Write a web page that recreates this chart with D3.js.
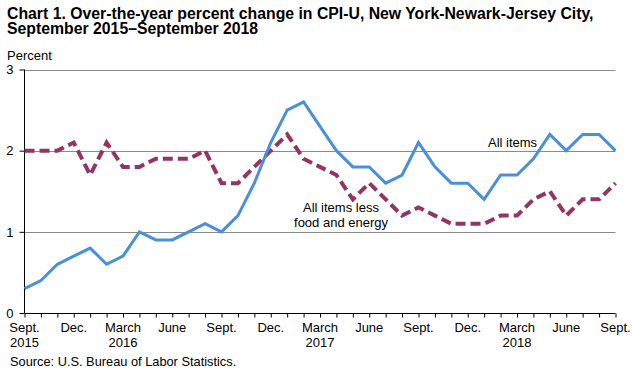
<!DOCTYPE html>
<html><head><meta charset="utf-8">
<script src="https://cdn.jsdelivr.net/npm/d3@7"></script>
<style>body{margin:0;background:#fff}svg{display:block;font-family:"Liberation Sans",Arial,sans-serif}</style>
</head><body>
<script>
const months = ["2015-09","2015-10","2015-11","2015-12","2016-01","2016-02","2016-03","2016-04","2016-05","2016-06","2016-07","2016-08","2016-09","2016-10","2016-11","2016-12","2017-01","2017-02","2017-03","2017-04","2017-05","2017-06","2017-07","2017-08","2017-09","2017-10","2017-11","2017-12","2018-01","2018-02","2018-03","2018-04","2018-05","2018-06","2018-07","2018-08","2018-09"];
const allItems = [0.3,0.4,0.6,0.7,0.8,0.6,0.7,1.0,0.9,0.9,1.0,1.1,1.0,1.2,1.6,2.1,2.5,2.6,2.3,2.0,1.8,1.8,1.6,1.7,2.1,1.8,1.6,1.6,1.4,1.7,1.7,1.9,2.2,2.0,2.2,2.2,2.0];
const core = [2.0,2.0,2.0,2.1,1.7,2.1,1.8,1.8,1.9,1.9,1.9,2.0,1.6,1.6,1.8,2.0,2.2,1.9,1.8,1.7,1.4,1.6,1.4,1.2,1.3,1.2,1.1,1.1,1.1,1.2,1.2,1.4,1.5,1.2,1.4,1.4,1.6];
const tickLabels = [["Sept.","2015"],["Dec.",""],["March","2016"],["June",""],["Sept.",""],["Dec.",""],["March","2017"],["June",""],["Sept.",""],["Dec.",""],["March","2018"],["June",""],["Sept.",""]];
const yTicks = [0,1,2,3];

const W=632,H=369;
const svg=d3.select("body").append("svg").attr("width",W).attr("height",H);
const x=d3.scaleLinear().domain([0,months.length-1]).range([24.5,615.5]);
const y=d3.scaleLinear().domain([0,3]).range([313,69.5]);

svg.append("text").attr("x",7).attr("y",18.5).attr("font-size",15.8).attr("font-weight","bold").text("Chart 1. Over-the-year percent change in CPI-U, New York-Newark-Jersey City,");
svg.append("text").attr("x",7).attr("y",34).attr("font-size",15.8).attr("font-weight","bold").text("September 2015\u2013September 2018");
svg.append("text").attr("x",7).attr("y",59.5).attr("font-size",13).text("Percent");

// gridlines
svg.append("g").selectAll("line").data(yTicks.filter(d=>d>0)).join("line")
  .attr("x1",x(0)).attr("x2",x(months.length-1)).attr("y1",d=>Math.round(y(d))+0.5).attr("y2",d=>Math.round(y(d))+0.5)
  .attr("stroke","#8a8a8a").attr("stroke-width",1);

// y axis
const ya=svg.append("g").attr("transform","translate(24.5,0)")
  .call(d3.axisLeft(y).tickValues(yTicks).tickSize(5).tickPadding(6).tickFormat(d3.format("d")));
ya.select(".domain").attr("d",`M0,${y(3)}V${y(0)}`).attr("stroke","#000");
ya.selectAll("text").attr("font-size",13).attr("font-family","Liberation Sans, Arial, sans-serif").attr("fill","#000");
ya.selectAll(".tick line").attr("stroke","#000");

// x axis
const xa=svg.append("g").attr("transform",`translate(0,${Math.round(y(0))+0.5})`)
  .call(d3.axisBottom(x).tickValues(d3.range(months.length)).tickSize(4).tickFormat(""));
xa.select(".domain").attr("d",`M${x(0)},0H${x(months.length-1)}`).attr("stroke","#000");
xa.selectAll(".tick line").attr("stroke","#000");

const lbl=svg.append("g").selectAll("text").data(tickLabels).join("text")
  .attr("x",(d,i)=>x(i*3)).attr("y",332).attr("text-anchor","middle").attr("font-size",13);
lbl.append("tspan").attr("x",(d,i)=>x(i*3)).attr("dy",0).text(d=>d[0]);
lbl.append("tspan").attr("x",(d,i)=>x(i*3)).attr("dy",14.5).text(d=>d[1]);

const line=d3.line().x((d,i)=>x(i)).y(d=>y(d));
svg.append("path").datum(core).attr("d",line).attr("fill","none").attr("stroke","#943462").attr("stroke-width",4).attr("stroke-dasharray","10,5");
svg.append("path").datum(allItems).attr("d",line).attr("fill","none").attr("stroke","#4a8fd8").attr("stroke-width",3).attr("stroke-linejoin","miter");

svg.append("text").attr("x",488).attr("y",147).attr("font-size",13).text("All items");
const t2=svg.append("text").attr("text-anchor","middle").attr("font-size",13);
t2.append("tspan").attr("x",341).attr("y",212).text("All items less");
t2.append("tspan").attr("x",341).attr("y",227).text("food and energy");

svg.append("text").attr("x",10).attr("y",366).attr("font-size",12.8).text("Source: U.S. Bureau of Labor Statistics.");
</script>
</body></html>
